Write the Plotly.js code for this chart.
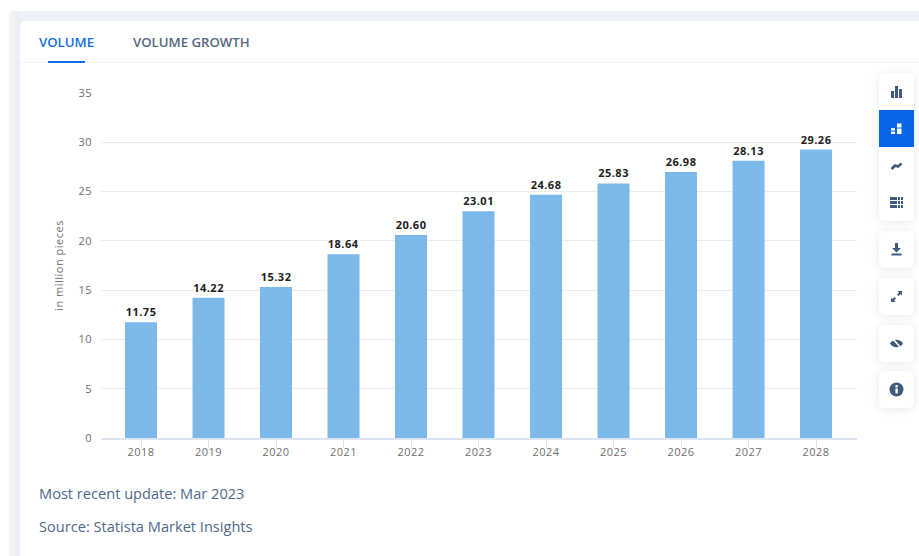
<!DOCTYPE html>
<html>
<head>
<meta charset="utf-8">
<script src="https://cdn.plot.ly/plotly-3.0.1.min.js"></script>
<style>
  html, body { margin: 0; padding: 0; width: 919px; height: 556px; overflow: hidden; background: #fff; font-family: "Open Sans", sans-serif; }
  #band { position: absolute; left: 9px; top: 11px; width: 910px; height: 545px; background: linear-gradient(90deg, #f3f5f9 0, #e9edf4 11px); border-radius: 4px 0 0 0; }
  #bandtop { position: absolute; left: 20px; top: 11px; width: 899px; height: 10px; background: #eef1f6; }
  #card { position: absolute; left: 20px; top: 21px; width: 899px; height: 535px; background: #fff; border-radius: 6px 0 0 0; }
  #tabline { position: absolute; left: 20px; top: 62px; width: 899px; height: 1px; background: #f3f5f9; }
  .tab { position: absolute; top: 33px; font-size: 13.2px; font-weight: 600; line-height: 18px; white-space: nowrap; }
  #tab1 { left: 39px; color: #0f6fe8; }
  #tab2 { left: 133px; color: #56687f; }
  #underline { position: absolute; left: 48px; top: 61px; width: 37px; height: 2px; background: #0f6fe8; }
  .note { position: absolute; left: 39px; font-size: 14.6px; color: #51698a; line-height: 20px; white-space: nowrap; }
  #chart { position: absolute; left: 0; top: 0; }
  #chart .main-svg { background: transparent !important; }
  #chart text { letter-spacing: 0.5px; }
  .btn { position: absolute; left: 879px; width: 35px; background: #fff; border-radius: 5px; box-shadow: 0 1px 8px rgba(60,80,120,0.13); }
  .btn svg { position: absolute; left: 10px; width: 15px; height: 15px; }
  #active { position: absolute; left: 879px; top: 110px; width: 35px; height: 37px; background: #0666e5; }
</style>
</head>
<body>
<div id="band"></div>
<div id="bandtop"></div>
<div id="card"></div>
<div id="tabline"></div>
<div class="tab" id="tab1">VOLUME</div>
<div class="tab" id="tab2">VOLUME GROWTH</div>
<div id="underline"></div>
<div id="chart"></div>
<div class="note" style="top:483px">Most recent update: Mar 2023</div>
<div class="note" style="top:516px">Source: Statista Market Insights</div>

<!-- Side toolbar -->
<div class="btn" style="top:73px;height:148px">
  <svg style="top:11px" viewBox="0 0 15 15" fill="#3f5a7d"><rect x="2" y="7" width="3" height="7"/><rect x="6" y="2" width="3" height="12"/><rect x="10" y="5" width="3" height="9"/></svg>
  <svg style="top:85px" viewBox="0 0 15 15" fill="none" stroke="#3f5a7d" stroke-width="2.6"><path d="M2.5 11 L6 7.5 L9 8.5 L12.5 5.5"/></svg>
  <svg style="top:122px" viewBox="0 0 15 15" fill="#3f5a7d"><rect x="1" y="2" width="7" height="3"/><rect x="1" y="6" width="7" height="3"/><rect x="1" y="10" width="7" height="3"/><rect x="9" y="2" width="2" height="3"/><rect x="12" y="2" width="2" height="3"/><rect x="9" y="6" width="2" height="3"/><rect x="12" y="6" width="2" height="3"/><rect x="9" y="10" width="2" height="3"/><rect x="12" y="10" width="2" height="3"/></svg>
</div>
<div id="active">
  <svg style="position:absolute;left:10px;top:11px;width:15px;height:15px" viewBox="0 0 15 15" fill="#fff"><rect x="2" y="7" width="4" height="2.5"/><rect x="2" y="10.5" width="4" height="2.5"/><rect x="8" y="2.5" width="4.5" height="4"/><rect x="8" y="7.5" width="4.5" height="5.5"/></svg>
</div>
<div class="btn" style="top:231px;height:37px">
  <svg style="top:11px" viewBox="0 0 15 15" fill="#3f5a7d"><path d="M6 1 H9 V6 H12 L7.5 10.5 L3 6 H6 Z"/><rect x="2.5" y="11.5" width="10" height="2"/></svg>
</div>
<div class="btn" style="top:278px;height:37px">
  <svg style="top:11px" viewBox="0 0 15 15" fill="#3f5a7d"><path d="M8.5 2 H13 V6.5 L11.5 5 L9.5 7 L8 5.5 L10 3.5 Z"/><path d="M6.5 13 H2 V8.5 L3.5 10 L5.5 8 L7 9.5 L5 11.5 Z"/></svg>
</div>
<div class="btn" style="top:325px;height:37px">
  <svg style="top:11px" viewBox="0 0 15 15"><path d="M1 7.5 C4 2.5 11 2.5 14 7.5 C11 12.5 4 12.5 1 7.5 Z" fill="#3f5a7d"/><path d="M3.5 2.5 L12.5 12.5" stroke="#fff" stroke-width="1.6"/></svg>
</div>
<div class="btn" style="top:371px;height:37px">
  <svg style="top:11px" viewBox="0 0 15 15"><circle cx="7.5" cy="7.5" r="7" fill="#3f5a7d"/><rect x="6.4" y="6.4" width="2.4" height="5" fill="#fff"/><rect x="6.4" y="3.2" width="2.4" height="2.2" fill="#fff"/></svg>
</div>

<script>
// Unit sales per year, in million pieces
var years = ['2018','2019','2020','2021','2022','2023','2024','2025','2026','2027','2028'];
var volume = [11.75, 14.22, 15.32, 18.64, 20.60, 23.01, 24.68, 25.83, 26.98, 28.13, 29.26];
var yTicks = [0, 5, 10, 15, 20, 25, 30, 35];

var trace = {
  type: 'bar',
  x: years,
  y: volume,
  width: 0.474,
  marker: { color: '#7cb9eb', line: { width: 0 } },
  text: volume.map(function (v) { return v.toFixed(2); }),
  textposition: 'outside',
  textangle: 0,
  cliponaxis: false,
  textfont: { family: '"Open Sans", sans-serif', size: 11, color: '#222222', weight: 700 },
  hoverinfo: 'x+y'
};

var layout = {
  width: 919,
  height: 556,
  margin: { l: 101, r: 62, t: 93, b: 118, pad: 0 },
  paper_bgcolor: 'rgba(0,0,0,0)',
  plot_bgcolor: 'rgba(0,0,0,0)',
  showlegend: false,
  font: { family: '"Open Sans", sans-serif', size: 11, color: '#6e6e6e' },
  xaxis: {
    type: 'category',
    range: [-0.593, 10.607],
    tickmode: 'array',
    tickvals: years,
    ticktext: years,
    ticks: 'outside',
    ticklen: 8,
    tickcolor: '#dde5f3',
    tickwidth: 1,
    showgrid: false,
    showline: true,
    linecolor: '#dde5f3',
    linewidth: 1.5,
    zeroline: false,
    ticklabelstandoff: -5,
    tickfont: { size: 11, color: '#6e6e6e' }
  },
  yaxis: {
    range: [0, 35],
    tickmode: 'array',
    tickvals: yTicks,
    ticks: '',
    showline: false,
    gridcolor: '#e9ecf1',
    gridwidth: 1,
    zeroline: false,
    ticklabelstandoff: 8,
    tickfont: { size: 11, color: '#6e6e6e' },
    title: { text: 'in million pieces', font: { size: 11, color: '#6e6e6e' }, standoff: 13 }
  },
  bargap: 0.526
};

Plotly.newPlot('chart', [trace], layout, { displayModeBar: false, staticPlot: true });
</script>
</body>
</html>
